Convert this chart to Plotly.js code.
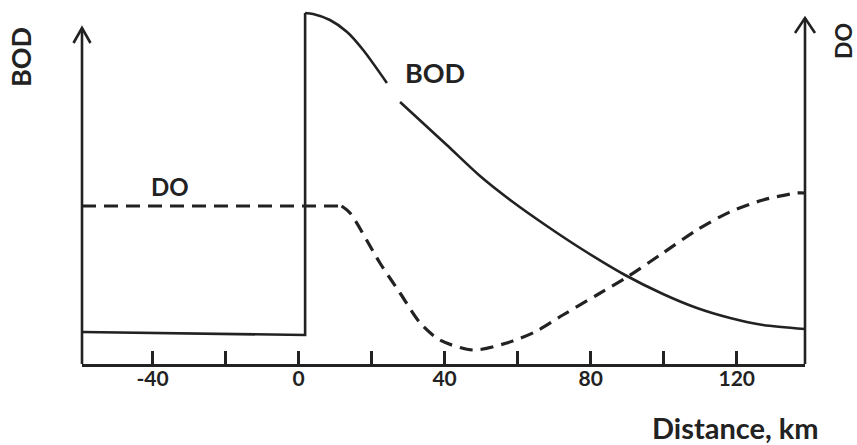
<!DOCTYPE html>
<html>
<head>
<meta charset="utf-8">
<script src="https://cdn.plot.ly/plotly-3.0.1.min.js"></script>
<style>html,body{margin:0;padding:0;background:#fff;}#chart{width:857px;height:445px;}</style>
</head>
<body>
<div id="chart"></div>
<script>
// Distance along the river, km (x) and relative concentration (arbitrary units, y)
const bodUpKm   = [-59.3, 1.8, 1.8];
const bodUpVal  = [32, 29, 351];
const bodDownKm  = [1.8, 4, 8.6, 13.3, 17.7, 24.2, 26, 27.8, 40.6, 49.7, 58.7, 68, 77.1, 89.4, 99.8, 109.1, 118.2, 127.2, 138.7];
const bodDownVal = [351, 350, 344, 332, 314, 281, null, 262, 219, 188, 162, 138, 116, 89, 70, 56, 46, 39, 35];
const doFlatKm  = [-59.3, 11.8];
const doFlatVal = [158, 158];
const doCurveKm  = [11.8, 14.1, 22.3, 27.8, 33.3, 38.7, 47.8, 57.0, 64.7, 72.4, 81.7, 90.0, 99.8, 109.1, 118.1, 127.2, 136.5, 138.7];
const doCurveVal = [158, 151, 101, 71, 41, 24, 14, 21, 32, 49, 69, 87, 111, 134, 152, 164, 171, 171];
const tickVals = [-40, -20, 0, 20, 40, 60, 80, 100, 120];
const tickText = ['-40', '', '0', '', '40', '', '80', '', '120'];

const ink = '#222222';
const FONT = 'Lato, "Open Sans", sans-serif';

const traces = [
  {x: bodUpKm, y: bodUpVal, mode: 'lines', line: {color: ink, width: 2.6, shape: 'linear'}, hoverinfo: 'skip'},
  {x: bodDownKm, y: bodDownVal, mode: 'lines', connectgaps: false, line: {color: ink, width: 2.6, shape: 'spline', smoothing: 0.8}, hoverinfo: 'skip'},
  {x: doFlatKm, y: doFlatVal, mode: 'lines', line: {color: ink, width: 3.2, dash: '14px,8px', shape: 'linear'}, hoverinfo: 'skip'},
  {x: doCurveKm, y: doCurveVal, mode: 'lines', line: {color: ink, width: 3.2, dash: '13px,8px', shape: 'spline', smoothing: 0.8}, hoverinfo: 'skip'}
];

function px(x){ return (x - 82) / 723; }
function py(y){ return (364 - y) / 356; }

const layout = {
  width: 857, height: 445,
  margin: {l: 82, r: 52, t: 8, b: 81},
  paper_bgcolor: '#fff', plot_bgcolor: '#fff',
  showlegend: false,
  xaxis: {
    range: [-59.3, 138.7], fixedrange: true,
    showgrid: false, zeroline: false,
    showline: true, linecolor: ink, linewidth: 2.6,
    ticks: 'inside', ticklen: 13, tickwidth: 2.6, tickcolor: ink,
    tickmode: 'array', tickvals: tickVals, ticktext: tickText,
    tickfont: {family: FONT, size: 21, color: ink, weight: 700},
    ticklabelstandoff: -6
  },
  yaxis: {range: [0, 356], visible: false, fixedrange: true},
  shapes: [
    {type: 'line', xref: 'paper', yref: 'paper', x0: 0, x1: 0, y0: 0, y1: py(28), line: {color: ink, width: 2.6}},
    {type: 'path', xref: 'paper', yref: 'paper', path: `M ${px(73.5)},${py(43)} L ${px(82)},${py(28)} L ${px(90.5)},${py(43)}`, line: {color: ink, width: 2.6}},
    {type: 'line', xref: 'paper', yref: 'paper', x0: 1, x1: 1, y0: 0, y1: py(18), line: {color: ink, width: 2.6}},
    {type: 'path', xref: 'paper', yref: 'paper', path: `M ${px(795)},${py(33)} L ${px(805)},${py(18)} L ${px(815)},${py(33)}`, line: {color: ink, width: 2.6}}
  ],
  annotations: [
    {text: 'BOD', xref: 'paper', yref: 'paper', x: px(434.5), y: py(73), showarrow: false, xanchor: 'center', yanchor: 'middle', font: {family: FONT, size: 27, color: ink, weight: 700}},
    {text: 'DO', xref: 'paper', yref: 'paper', x: px(170), y: py(186.5), showarrow: false, xanchor: 'center', yanchor: 'middle', font: {family: FONT, size: 24, color: ink, weight: 700}},
    {text: 'BOD', xref: 'paper', yref: 'paper', x: px(21), y: py(57), showarrow: false, textangle: -90, xanchor: 'center', yanchor: 'middle', font: {family: FONT, size: 27, color: ink, weight: 700}},
    {text: 'DO', xref: 'paper', yref: 'paper', x: px(843), y: py(41), showarrow: false, textangle: -90, xanchor: 'center', yanchor: 'middle', font: {family: FONT, size: 23, color: ink, weight: 700}},
    {text: 'Distance, km', xref: 'paper', yref: 'paper', x: px(735), y: py(427), showarrow: false, xanchor: 'center', yanchor: 'middle', font: {family: FONT, size: 29, color: ink, weight: 700}}
  ]
};

Plotly.newPlot('chart', traces, layout, {staticPlot: true, displayModeBar: false});
</script>
</body>
</html>
